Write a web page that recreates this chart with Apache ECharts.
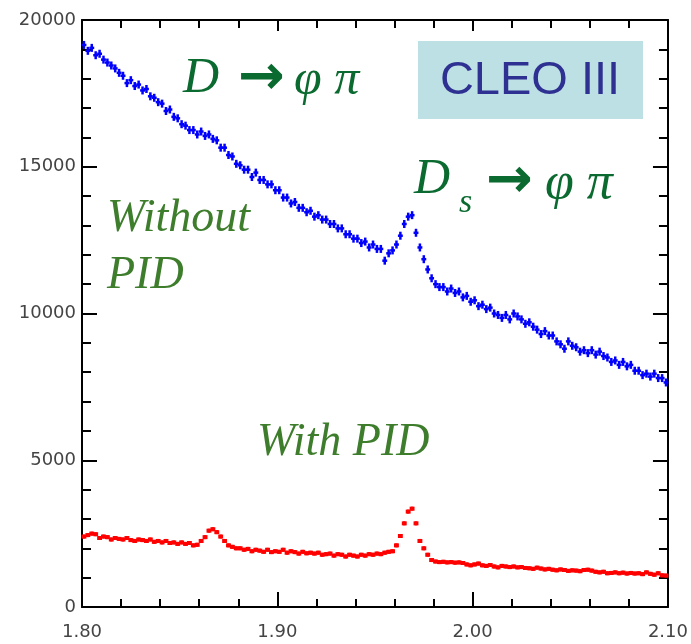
<!DOCTYPE html>
<html>
<head>
<meta charset="utf-8">
<script src="https://cdn.jsdelivr.net/npm/echarts@6/dist/echarts.min.js"></script>
<style>
    html, body {margin: 0; padding: 0; background: #fff;}
    #mass_plot {width: 691px; height: 644px;}
</style>
</head>
<body>
<div id="mass_plot"></div>
<script>
// K K pi mass spectrum, 150 bins of 2 MeV from 1.80 to 2.10 GeV
var massLo = 1.80, binWidth = 0.002, nBins = 150;
var massBins = [];
for (var i = 0; i < nBins; i++) {
    massBins.push(+(massLo + binWidth * (i + 0.5)).toFixed(4));
}

// without PID (blue)
var noPidCounts = [
    19150, 18950, 19050, 18800, 18850, 18650, 18550, 18450, 18350, 18200,
    18100, 17850, 17950, 17750, 17800, 17600, 17650, 17400, 17350, 17200,
    17150, 16900, 16950, 16700, 16650, 16450, 16400, 16250, 16250, 16100,
    16200, 16050, 16100, 15950, 15900, 15650, 15650, 15400, 15350, 15100,
    15050, 14900, 14900, 14650, 14800, 14550, 14550, 14400, 14400, 14200,
    14200, 13950, 13950, 13750, 13800, 13600, 13600, 13450, 13500, 13300,
    13350, 13200, 13200, 13050, 13050, 12900, 12900, 12700, 12700, 12550,
    12550, 12400, 12450, 12250, 12350, 12200, 12200, 11800, 12050, 12150,
    12350, 12650, 13050, 13300, 13350, 12750, 12250, 11850, 11500, 11200,
    11000, 10900, 10900, 10750, 10850, 10700, 10750, 10550, 10600, 10400,
    10450, 10250, 10300, 10150, 10200, 10000, 9950, 9850, 9950, 9800,
    10000, 9900, 9800, 9650, 9700, 9550, 9450, 9300, 9400, 9250,
    9250, 9050, 8950, 8800, 9050, 8900, 8850, 8700, 8750, 8650,
    8750, 8600, 8700, 8550, 8500, 8350, 8400, 8250, 8350, 8200,
    8250, 8050, 8050, 7900, 7950, 7850, 7950, 7800, 7800, 7650
];

// with PID (red)
var pidCounts = [
    2400, 2450, 2500, 2480, 2350, 2400, 2380, 2300, 2350, 2320,
    2300, 2350, 2280, 2250, 2300, 2280, 2250, 2300, 2220, 2250,
    2200, 2250, 2180, 2200, 2150, 2200, 2150, 2180, 2100, 2120,
    2250, 2380, 2600, 2650, 2550, 2400, 2250, 2100, 2050, 2000,
    2000, 1950, 1980, 1900, 1950, 1920, 1880, 1950, 1870, 1900,
    1880, 1950, 1850, 1900, 1870, 1820, 1880, 1830, 1850, 1820,
    1850, 1780, 1800, 1820, 1750, 1800, 1780, 1720, 1780, 1750,
    1720, 1780, 1750, 1800, 1780, 1820, 1800, 1850, 1880, 1900,
    2100, 2420, 2850, 3250, 3350, 2850, 2250, 2000, 1780, 1600,
    1550, 1530, 1540, 1520, 1530, 1510, 1520, 1500, 1450, 1420,
    1450, 1480, 1420, 1400, 1430, 1380, 1350, 1400, 1380, 1360,
    1380, 1350, 1360, 1330, 1320, 1300, 1340, 1310, 1280, 1300,
    1270, 1250, 1280, 1260, 1230, 1250, 1240, 1220, 1260, 1270,
    1240, 1200, 1180, 1200, 1150, 1160, 1180, 1150, 1170, 1140,
    1160, 1140, 1150, 1120, 1180, 1130, 1100, 1150, 1080, 1070
];

var xTicks = [1.80, 1.90, 2.00, 2.10];
var yTicks = [0, 5000, 10000, 15000, 20000];

// draws a point with a horizontal bin bar and a small vertical bar
function errorCross(color, halfHeight, barWidth) {
    return function (params, api) {
        var p = api.coord([api.value(0), api.value(1)]);
        var w = api.size([binWidth, 0])[0];
        return {
            type: 'group',
            children: [
                {type: 'line', shape: {x1: p[0] - w / 2 - 0.5, y1: p[1], x2: p[0] + w / 2 + 0.5, y2: p[1]},
                    style: {stroke: color, lineWidth: barWidth}},
                {type: 'line', shape: {x1: p[0], y1: p[1] - halfHeight, x2: p[0], y2: p[1] + halfHeight},
                    style: {stroke: color, lineWidth: 2.5}}
            ]
        };
    };
}

var axisFont = {fontFamily: 'DejaVu Sans', fontSize: 18, color: '#444'};

function xAxisOf(pos, withLabels) {
    return {
        type: 'value', position: pos, min: xTicks[0], max: xTicks[xTicks.length - 1], interval: 0.1,
        axisLine: {show: true, onZero: false, lineStyle: {color: '#000', width: 2}},
        axisTick: {show: true, inside: true, length: pos == 'top' ? 11 : 15, lineStyle: {color: '#000', width: 2}},
        minorTick: {show: true, splitNumber: 5, length: 8, lineStyle: {color: '#000', width: 2}},
        splitLine: {show: false},
        axisLabel: Object.assign({show: withLabels, margin: 16, formatter: function (v) { return v.toFixed(2); }}, axisFont)
    };
}
function yAxisOf(pos, withLabels) {
    return {
        type: 'value', position: pos, min: yTicks[0], max: yTicks[yTicks.length - 1], interval: 5000,
        axisLine: {show: true, onZero: false, lineStyle: {color: '#000', width: 2}},
        axisTick: {show: true, inside: true, length: 15, lineStyle: {color: '#000', width: 2}},
        minorTick: {show: true, splitNumber: 5, length: 9, lineStyle: {color: '#000', width: 2}},
        splitLine: {show: false},
        axisLabel: Object.assign({show: withLabels, margin: 6, formatter: function (v) { return String(v); }}, axisFont)
    };
}

var darkGreen = '#0b6a2f';
var lightGreen = '#3d7d2c';
var serifIt = function (size) { return 'italic ' + size + 'px "Liberation Serif", "DejaVu Serif", serif'; };

var option = {
    backgroundColor: '#fff',
    animation: false,
    grid: {left: 82, right: 23, top: 20, bottom: 37},
    xAxis: [xAxisOf('bottom', true), xAxisOf('top', false)],
    yAxis: [yAxisOf('left', true), yAxisOf('right', false)],
    series: [
        {
            name: 'Without PID', type: 'custom', xAxisIndex: 0, yAxisIndex: 0,
            renderItem: errorCross('#0000ff', 4, 2.5),
            data: massBins.map(function (m, i) { return [m, noPidCounts[i]]; })
        },
        {
            name: 'With PID', type: 'custom', xAxisIndex: 0, yAxisIndex: 0,
            renderItem: errorCross('#ff0000', 2, 4),
            data: massBins.map(function (m, i) { return [m, pidCounts[i]]; })
        }
    ],
    graphic: [
        {type: 'rect', shape: {x: 418, y: 41, width: 225, height: 78}, style: {fill: '#bce0e3'}, z: 10},
        {type: 'text', x: 530, y: 81, z: 11,
            style: {text: 'CLEO III', font: '47px "Liberation Sans", Arial, sans-serif', fill: '#2e3192',
                textAlign: 'center', verticalAlign: 'middle'}},

        {type: 'text', x: 183, y: 79, z: 11,
            style: {text: 'D', font: serifIt(50), fill: darkGreen, verticalAlign: 'middle'}},
        {type: 'text', x: 238, y: 79, z: 11,
            style: {text: '→', font: 'bold 56px "DejaVu Sans", sans-serif', fill: darkGreen, verticalAlign: 'middle'}},
        {type: 'text', x: 294, y: 81, z: 11,
            style: {text: 'φ π', font: serifIt(50), fill: darkGreen, verticalAlign: 'middle'}},

        {type: 'text', x: 414, y: 180, z: 11,
            style: {text: 'D', font: serifIt(50), fill: darkGreen, verticalAlign: 'middle'}},
        {type: 'text', x: 459, y: 203, z: 11,
            style: {text: 's', font: serifIt(34), fill: darkGreen, verticalAlign: 'middle'}},
        {type: 'text', x: 486, y: 182, z: 11,
            style: {text: '→', font: 'bold 56px "DejaVu Sans", sans-serif', fill: darkGreen, verticalAlign: 'middle'}},
        {type: 'text', x: 545, y: 184, z: 11,
            style: {text: 'φ π', font: serifIt(52), fill: darkGreen, verticalAlign: 'middle'}},

        {type: 'text', x: 107, y: 219, z: 11,
            style: {text: 'Without', font: serifIt(46), fill: lightGreen, verticalAlign: 'middle'}},
        {type: 'text', x: 107, y: 276, z: 11,
            style: {text: 'PID', font: serifIt(46), fill: lightGreen, verticalAlign: 'middle'}},
        {type: 'text', x: 257, y: 443, z: 11,
            style: {text: 'With PID', font: serifIt(46), fill: lightGreen, verticalAlign: 'middle'}}
    ]
};

var massChart = echarts.init(document.getElementById('mass_plot'));
massChart.setOption(option);
</script>
</body>
</html>
